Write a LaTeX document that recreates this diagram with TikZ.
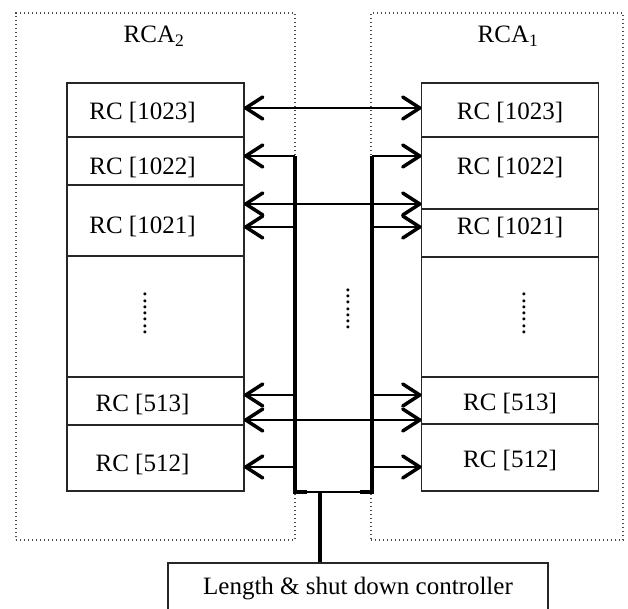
\documentclass[tikz,border=0pt]{standalone}
\usepackage{fontspec}
\setmainfont{Liberation Serif}
\usetikzlibrary{positioning,arrows.meta}

\begin{document}
\begin{tikzpicture}[x=1pt,y=-1pt,font=\fontsize{25}{30}\selectfont,
  rc/.style={draw=black!85,line width=1.3pt,inner sep=0pt,outer sep=0pt,minimum width=177pt,minimum height=#1,text height=25pt,text depth=5pt},
  lrc/.style={rc=#1,execute at end node={\hspace*{26pt}}},
  rca/.style={draw=black!70,line width=1.3pt,dash pattern=on 1.3pt off 2.7pt,inner sep=0pt,minimum width=#1,minimum height=527pt},
  tip/.style={line width=1.6pt,-{Straight Barb[length=17pt,width=22pt,line width=3.5pt,round]}},
  both/.style={line width=1.6pt,{Straight Barb[length=17pt,width=22pt,line width=3.5pt,round]}-{Straight Barb[length=17pt,width=22pt,line width=3.5pt,round]}},
  bus/.style={line width=4pt}]
\clip (0,0) rectangle (628,609);
% array frames
\node[rca=279pt] (rca2) at (155.5,276.5) {};
\node[rca=252pt] (rca1) at (497,276.5) {};
\node (rca2lbl) at (154,36) {RCA\textsubscript{2}};
\node (rca1lbl) at (508,36) {RCA\textsubscript{1}};
% left stack
\node[lrc=54pt] (L1023) at (155.5,110) {RC [1023]};
\node[lrc=48pt,text height=33pt,below=0pt of L1023] (L1022) {RC [1022]};
\node[lrc=71pt,text height=32pt,below=0pt of L1022] (L1021) {RC [1021]};
\node[rc=121pt,below=0pt of L1021] (Lmid) {};
\node[lrc=48pt,below=0pt of Lmid] (L513) {RC [513]};
\node[lrc=66pt,text height=31pt,below=0pt of L513] (L512) {RC [512]};
% right stack
\node[rc=54pt] (R1023) at (510,110) {RC [1023]};
\node[rc=72pt,text depth=21pt,below=0pt of R1023] (R1022) {RC [1022]};
\node[rc=48pt,text depth=21pt,below=0pt of R1022] (R1021) {RC [1021]};
\node[rc=120pt,below=0pt of R1021] (Rmid) {};
\node[rc=47pt,below=0pt of Rmid] (R513) {RC [513]};
\node[rc=67pt,below=0pt of R513] (R512) {RC [512]};
% dots
\node[rotate=90,inner sep=0pt] (Ldots) at (145,313.5) {.......};
\node[rotate=90,inner sep=0pt] (Rdots) at (524,313.5) {.......};
\node[rotate=90,inner sep=0pt] (Mdots) at (348,309) {.......};
% controller
\node[draw=black!85,line width=1.3pt,minimum width=380pt,minimum height=52pt] (ctrl) at (358,589) {Length \& shut down controller};
% bus
\coordinate (tL) at (295,156);
\coordinate (tR) at (372,156);
\coordinate (bL) at (295,492);
\coordinate (bR) at (372,492);
\coordinate (bM) at (320,492);
\draw[line width=1.6pt] (bL) -- (bR);
\draw[bus] (tL) -- (bL) -- ++(12,0);
\draw[bus] (tR) -- (bR) -- ++(-12,0);
\draw[bus] (bM) -- (ctrl.north -| bM);
% bus taps
\coordinate (pL1) at (295,227);
\coordinate (pR1) at (372,227);
\coordinate (pL2) at (295,395);
\coordinate (pR2) at (372,395);
\coordinate (pL3) at (295,467);
\coordinate (pR3) at (372,467);
\draw[tip] (tL) -- (tL -| L1022.east);
\draw[tip] (tR) -- (tR -| R1022.west);
\draw[tip] (pL1) -- (pL1 -| L1021.east);
\draw[tip] (pR1) -- (pR1 -| R1021.west);
\draw[tip] (pL2) -- (pL2 -| L513.east);
\draw[tip] (pR2) -- (pR2 -| R513.west);
\draw[tip] (pL3) -- (pL3 -| L512.east);
\draw[tip] (pR3) -- (pR3 -| R512.west);
% direct links
\coordinate (c0) at (333,108);
\coordinate (c1) at (333,204);
\coordinate (c2) at (333,420);
\draw[both] (c0 -| L1023.east) -- (c0 -| R1023.west);
\draw[both] (c1 -| L1021.east) -- (c1 -| R1022.west);
\draw[both] (c2 -| L512.east) -- (c2 -| R512.west);
\end{tikzpicture}
\end{document}
